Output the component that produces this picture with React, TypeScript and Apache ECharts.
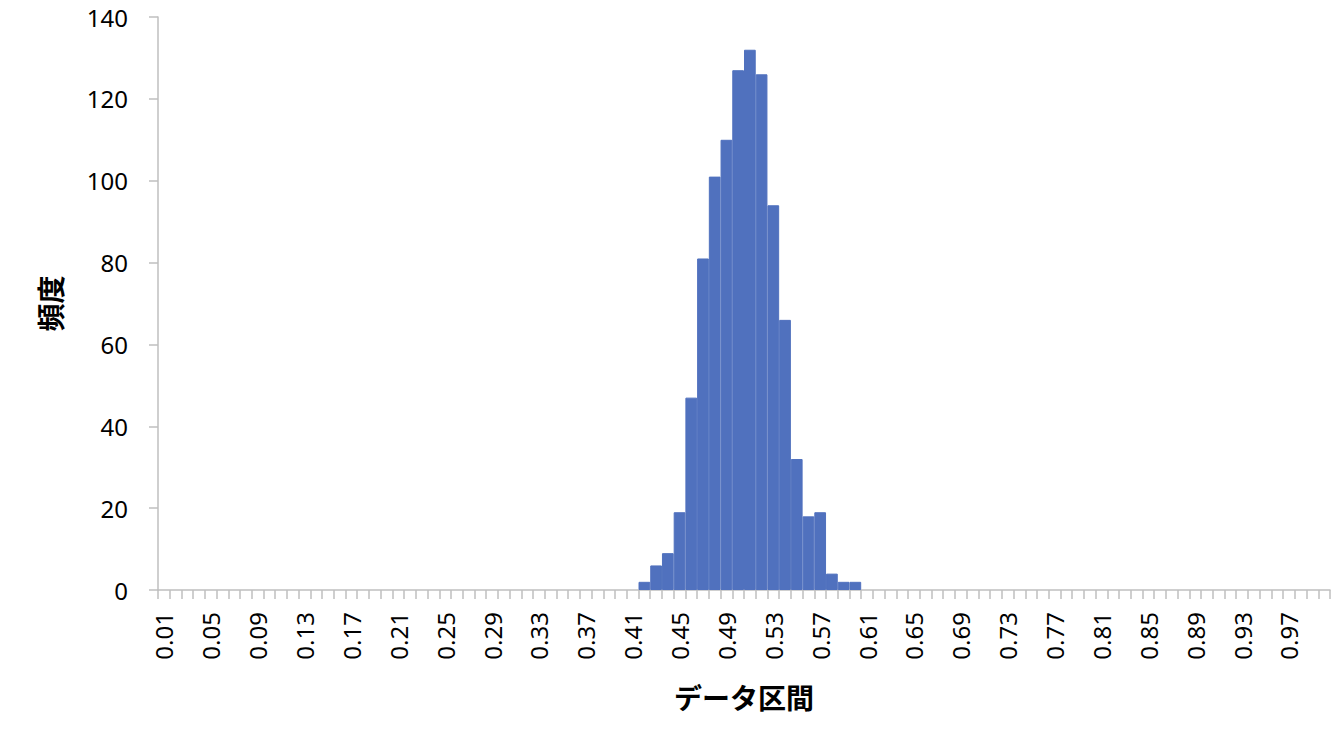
import React, { useEffect, useRef } from "react";
import * as echarts from "echarts";

// bins 0.01 .. 1.00
const bins: string[] = Array.from({ length: 100 }, (_, i) => ((i + 1) / 100).toFixed(2));

// non-zero bins
const filledBins = ["0.42", "0.43", "0.44", "0.45", "0.46", "0.47", "0.48", "0.49", "0.50", "0.51",
    "0.52", "0.53", "0.54", "0.55", "0.56", "0.57", "0.58", "0.59", "0.60"];
const filledCounts = [2, 6, 9, 19, 47, 81, 101, 110, 127, 132, 126, 94, 66, 32, 18, 19, 4, 2, 2];

const yTicks = [0, 20, 40, 60, 80, 100, 120, 140];

const App: React.FC = () => {
    const chartRef = useRef<HTMLDivElement>(null);

    useEffect(() => {
        if (!chartRef.current) return;
        const chart = echarts.init(chartRef.current, undefined, { renderer: "svg" });

        const axisColor = "#BFBFBF";
        const barColor = "#5071BE";
        const font = "'Noto Sans', 'Noto Sans CJK JP', sans-serif";

        // empty bins get no border so nothing is drawn on the baseline
        const counts = bins.map((b) => {
            const idx = filledBins.indexOf(b);
            const v = idx >= 0 ? filledCounts[idx] : 0;
            return v > 0 ? v : { value: 0, itemStyle: { borderWidth: 0 } };
        });

        chart.setOption({
            animation: false,
            grid: { left: 158, right: 10, top: 17, bottom: 148 },
            xAxis: {
                type: "category",
                data: bins,
                boundaryGap: true,
                name: "データ区間",
                nameLocation: "middle",
                nameGap: 93,
                nameTextStyle: {
                    fontFamily: "'Noto Sans CJK JP', sans-serif",
                    fontWeight: "bold",
                    fontSize: 28,
                    color: "#000"
                },
                axisLine: { lineStyle: { color: axisColor, width: 1.5 } },
                axisTick: { show: true, interval: 0, length: 9, lineStyle: { color: axisColor, width: 1.5 } },
                axisLabel: {
                    interval: 3,
                    rotate: 90,
                    margin: 22,
                    fontFamily: font,
                    fontSize: 24,
                    color: "#000"
                },
                splitLine: { show: false }
            },
            yAxis: {
                type: "value",
                min: yTicks[0],
                max: yTicks[yTicks.length - 1],
                interval: 20,
                name: "頻度",
                nameLocation: "middle",
                nameRotate: 90,
                nameGap: 94,
                nameTextStyle: {
                    fontFamily: "'Noto Sans CJK JP', sans-serif",
                    fontWeight: "bold",
                    fontSize: 28,
                    color: "#000"
                },
                axisLine: { show: true, lineStyle: { color: axisColor, width: 1.5 } },
                axisTick: { show: true, length: 9, lineStyle: { color: axisColor, width: 1.5 } },
                axisLabel: {
                    margin: 30,
                    fontFamily: font,
                    fontSize: 24,
                    color: "#000"
                },
                splitLine: { show: false }
            },
            series: [
                {
                    type: "bar",
                    data: counts,
                    barCategoryGap: "0%",
                    z: 1,
                    itemStyle: { color: barColor, borderColor: barColor, borderWidth: 1 }
                }
            ]
        });

        return () => {
            chart.dispose();
        };
    }, []);

    return (
        <div
            ref={chartRef}
            style={{ position: "fixed", left: 0, top: 0, width: "1340px", height: "738px", background: "#fff" }}
        />
    );
};

export default App;
